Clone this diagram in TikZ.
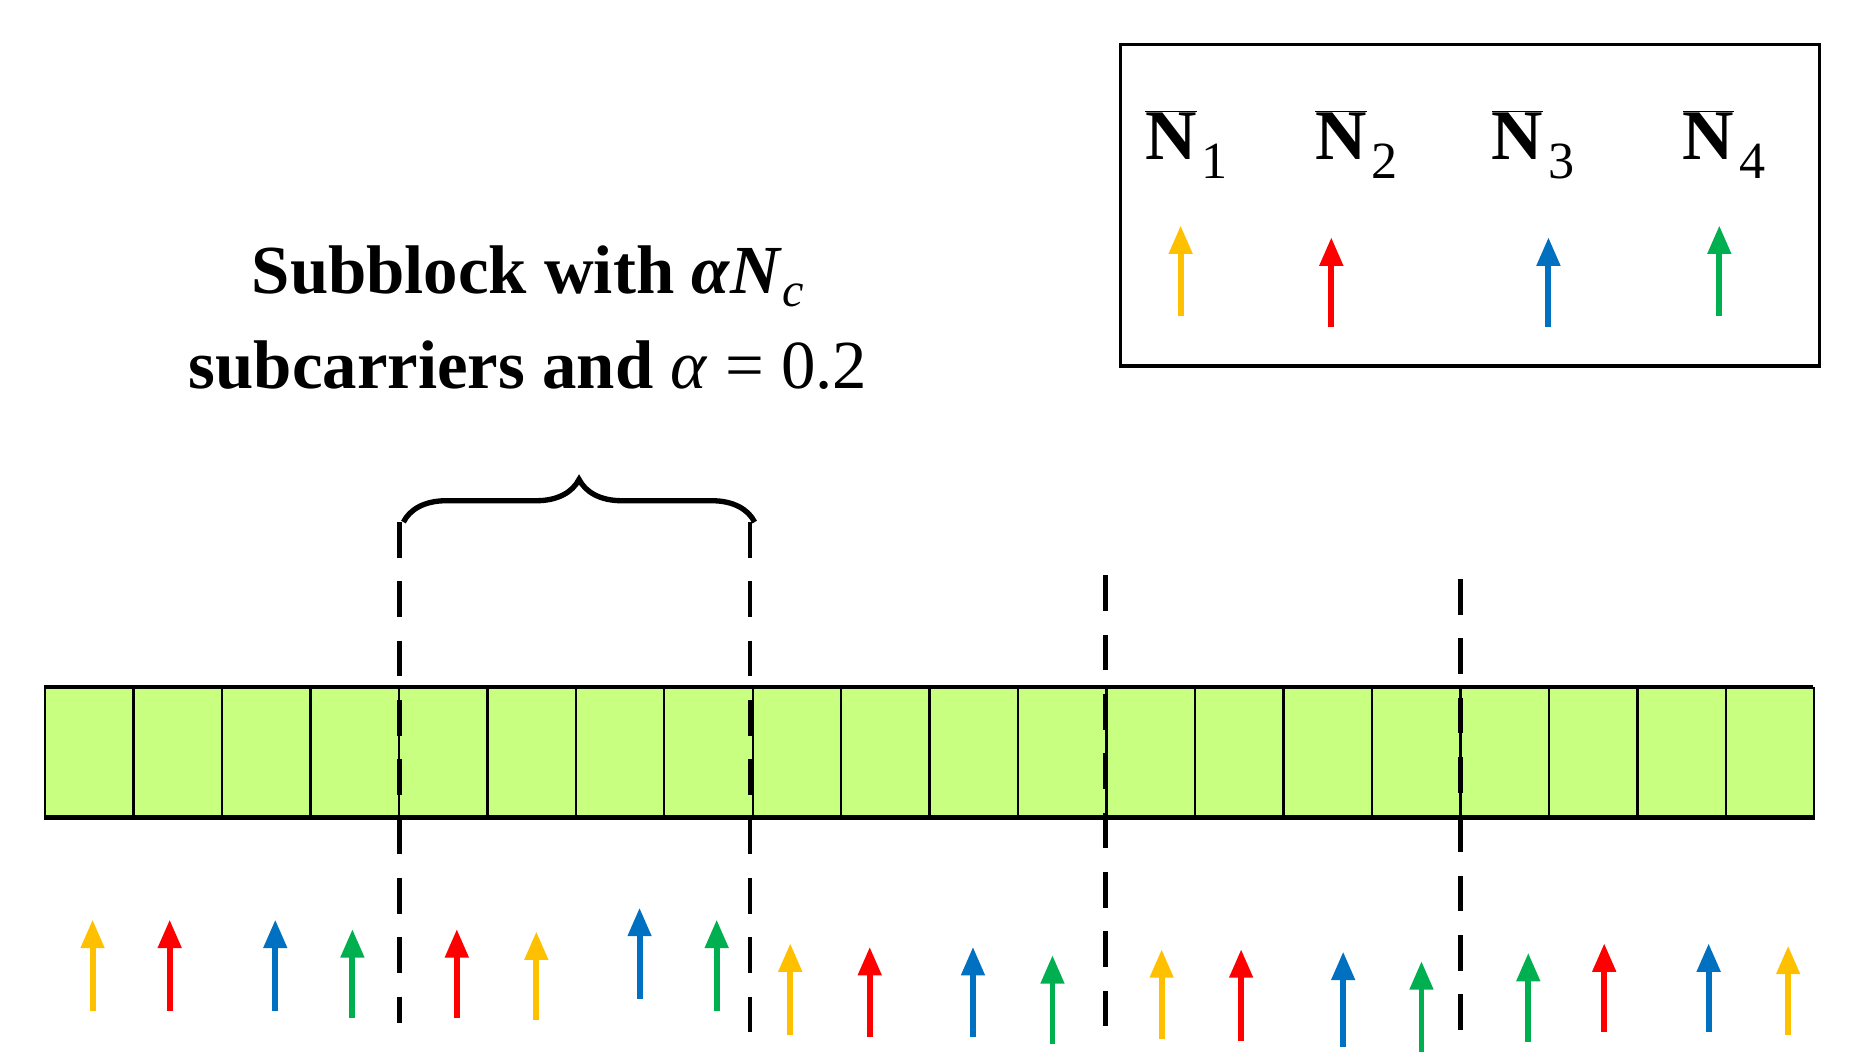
\documentclass[tikz,border=0pt]{standalone}
\usepackage{fontspec}
\setmainfont{Liberation Serif}
\usetikzlibrary{arrows.meta,decorations.pathreplacing}
\begin{document}
\begin{tikzpicture}[x=1pt,y=-1pt,
  arr/.style={line width=5pt,-{Triangle[width=19pt,length=24pt]}},
  dsh/.style={line width=4pt,dash pattern=on 30pt off 20pt},
  cell/.style={draw=black,line width=2pt,fill=barfill}]
\definecolor{barfill}{HTML}{C8FF80}
\definecolor{cy}{HTML}{FFC000}
\definecolor{cr}{HTML}{FF0000}
\definecolor{cb}{HTML}{0070C0}
\definecolor{cg}{HTML}{00B050}
\useasboundingbox (0,0) rectangle (1560,893);
% bar
\foreach \i in {0,...,19}{
  \node[cell,minimum width=74.55pt,minimum height=110pt,inner sep=0pt,anchor=north west] (c\i) at ({37+\i*74.55},579) {};
}
\draw[line width=4pt] (37,579) -- (1528,579) (37,689) -- (1528,689);
% dashed lines
\coordinate (d1a) at (337,440); \coordinate (d1b) at (337,862);
\coordinate (d2a) at (632,440); \coordinate (d2b) at (632,882);
\coordinate (d3a) at (932,485); \coordinate (d3b) at (932,878);
\coordinate (d4a) at (1231,488); \coordinate (d4b) at (1231,882);
\foreach \k in {1,2,3,4}{\draw[dsh] (d\k a) -- (d\k b);}
% brace
\coordinate (b1) at (340,440); \coordinate (b2) at (636,440);
\draw[line width=4.5pt,decorate,decoration={brace,amplitude=36pt,aspect=0.5}] (b1) -- (b2);
\node[font=\fontsize{58}{80}\selectfont\bfseries,align=center] (title) at (445,268)
  {Subblock with \textit{α}\textit{N}\textsubscript{\mdseries\textit{c}}\\subcarriers and {\mdseries\textit{α} = 0.2}};
% legend
\node[draw,line width=3pt,minimum width=589pt,minimum height=271pt,anchor=north west,inner sep=0pt] (leg) at (943,36) {};
\foreach \x/\n in {1000/1,1143/2,1292/3,1453/4}{
  \node[font=\fontsize{60}{70}\selectfont] (L\n) at (\x,122) {$\overline{\mbox{\textbf{N}}}$\kern4pt\raisebox{-16pt}{\fontsize{44}{50}\selectfont\n}};
}
\foreach \x/\t/\b/\c/\n in {995/190/266/cy/1,1122/200/276/cr/2,1305/200/276/cb/3,1449/190/266/cg/4}{
  \coordinate (ls\n) at (\x,\b); \coordinate (le\n) at (\x,\t);
  \draw[arr,\c] (ls\n) -- (le\n);
}
% bottom arrows
\foreach \x/\t/\b/\c [count=\n] in {
 78/775/852/cy,143/775/852/cr,232/775/852/cb,297/783/858/cg,385/783/858/cr,
 452/785/860/cy,539/765/842/cb,604/775/852/cg,666/795/872/cy,733/798/874/cr,
 820/798/874/cb,887/805/880/cg,979/800/876/cy,1046/800/877/cr,1132/802/882/cb,
 1198/810/887/cg,1288/803/878/cg,1352/795/870/cr,1440/795/870/cb,1507/797/872/cy}{
  \coordinate (s\n) at (\x,\b); \coordinate (e\n) at (\x,\t);
  \draw[arr,\c] (s\n) -- (e\n);
}
\end{tikzpicture}
\end{document}
